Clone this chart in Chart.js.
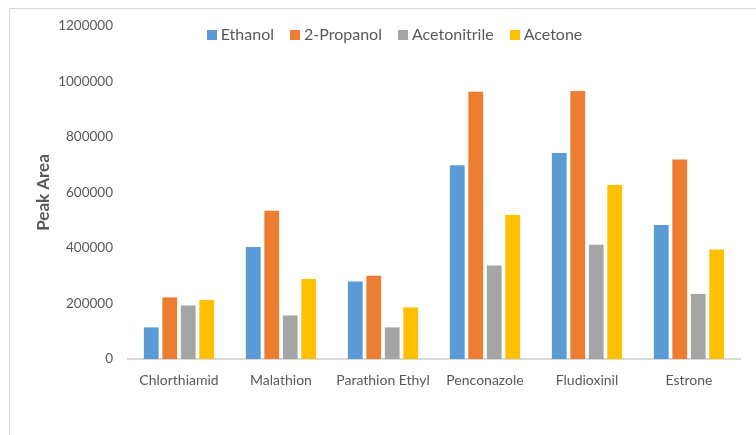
<!DOCTYPE html>
<html>
<head>
<meta charset="utf-8">
<script src="https://cdn.jsdelivr.net/npm/chart.js@4.4.1/dist/chart.umd.min.js"></script>
<style>
  body { margin: 0; background: #fff; }
  #wrap { position: relative; width: 756px; height: 435px; overflow: hidden; }
  #frame { position: absolute; left: 9px; top: 8px; width: 800px; height: 500px; border: 1px solid #d9d9d9; }
  #legend { position: absolute; top: 24px; left: 0; width: 789px; text-align: center; font-family: Lato, sans-serif; font-size: 16px; color: #595959; }
  #legend span.item { display: inline-block; margin: 0 8px; }
  #legend span.box { display: inline-block; width: 10px; height: 10px; margin-right: 4px; }
  canvas { position: absolute; left: 0; top: 0; }
</style>
</head>
<body>
<div id="wrap">
  <div id="frame"></div>
  <canvas id="chart" width="756" height="435"></canvas>
  <div id="legend"></div>
</div>
<script>
let categories = ["Chlorthiamid", "Malathion", "Parathion Ethyl", "Penconazole", "Fludioxinil", "Estrone"];
let seriesNames = ["Ethanol", "2-Propanol", "Acetonitrile", "Acetone"];
let ethanol = [114000, 404000, 279000, 698000, 742000, 483000];
let propanol = [222000, 534000, 300000, 963000, 966000, 719000];
let acetonitrile = [193000, 157000, 114000, 337000, 412000, 234000];
let acetone = [213000, 288000, 186000, 519000, 627000, 395000];
let yTicks = [0, 200000, 400000, 600000, 800000, 1000000, 1200000];
let colors = ["#5B9BD5", "#ED7D31", "#A5A5A5", "#FFC000"];

let values = [ethanol, propanol, acetonitrile, acetone];
let datasets = [];
for (let i = 0; i < seriesNames.length; i++) {
    datasets.push({
        label: seriesNames[i],
        data: values[i],
        backgroundColor: colors[i],
        borderWidth: 0,
        categoryPercentage: 0.725,
        barPercentage: 0.8
    });
}

// html legend
let legend = document.getElementById("legend");
seriesNames.forEach((name, i) => {
    legend.innerHTML += '<span class="item"><span class="box" style="background:' + colors[i] + '"></span>' + name + '</span>';
});

Chart.defaults.font.family = "Lato, sans-serif";
Chart.defaults.color = "#595959";

let ctx = document.getElementById("chart");
let myChart = new Chart(ctx, {
    type: "bar",
    data: { labels: categories, datasets: datasets },
    options: {
        responsive: false,
        animation: false,
        layout: { padding: { left: 29, right: 16, top: 26, bottom: 36 } },
        plugins: { legend: { display: false }, tooltip: { enabled: false } },
        scales: {
            x: {
                grid: { display: false },
                border: { color: "#d9d9d9", width: 2 },
                ticks: { font: { size: 14 }, padding: 5, maxRotation: 0, autoSkip: false },
                afterFit: s => { s.height = 40; }
            },
            y: {
                min: 0,
                max: 1200000,
                afterBuildTicks: s => { s.ticks = yTicks.map(v => ({ value: v })); },
                grid: { display: false },
                border: { display: false },
                ticks: { font: { size: 13.5 }, padding: 7, callback: v => String(v) },
                title: { display: true, text: "Peak Area", font: { size: 17, weight: "bold" }, color: "#595959", padding: { top: 4, bottom: 4 } },
                afterFit: s => { s.width = 128 - 29; }
            }
        }
    }
});
</script>
</body>
</html>
